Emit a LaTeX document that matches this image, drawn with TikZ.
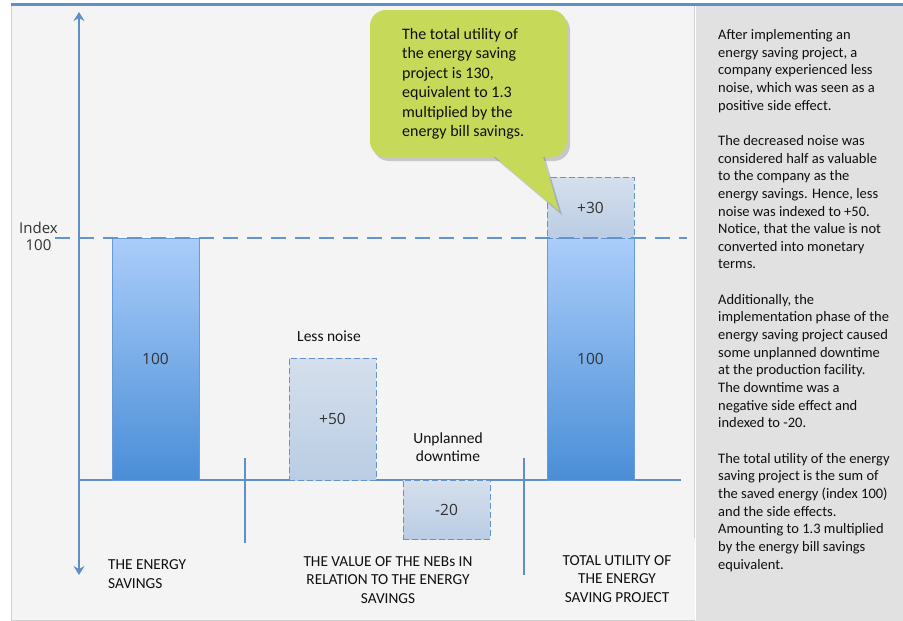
\documentclass[tikz,border=0pt]{standalone}
\usepackage{fontspec}
\setmainfont{Carlito}
\newfontfamily\numfont{Open Sans}
\usetikzlibrary{arrows.meta}

\definecolor{axisblue}{RGB}{95,143,201}
\definecolor{dashblue}{RGB}{100,148,205}
\definecolor{barline}{RGB}{104,154,214}
\definecolor{bartop}{RGB}{170,205,250}
\definecolor{barbot}{RGB}{74,142,215}
\definecolor{nebtop}{RGB}{213,223,236}
\definecolor{nebbot}{RGB}{186,205,228}
\definecolor{panelbg}{RGB}{244,244,244}
\definecolor{panelrule}{RGB}{208,208,208}
\definecolor{sidebg}{RGB}{225,225,225}
\definecolor{callgreen}{RGB}{198,217,89}
\definecolor{numgray}{RGB}{50,50,50}
\definecolor{inktext}{RGB}{15,15,15}

\begin{document}
\begin{tikzpicture}[x=1pt,y=-1pt,
  axis/.style={draw=axisblue, line width=2pt},
  enbar/.style={draw=barline, line width=0.8pt, top color=bartop, bottom color=barbot,
    minimum width=87pt, inner sep=0pt, outer sep=0pt, text=numgray,
    font=\numfont\fontsize{15.5}{18}\selectfont},
  nebbox/.style={draw=dashblue, line width=1pt, dash pattern=on 6pt off 3pt,
    top color=nebtop, bottom color=nebbot,
    minimum width=87pt, inner sep=0pt, outer sep=0pt, text=numgray,
    font=\numfont\fontsize{15.5}{18}\selectfont},
  lbl/.style={inner sep=0pt, align=center, text=inktext, font=\fontsize{15.5}{18}\selectfont},
  capt/.style={inner sep=0pt, text=inktext, font=\fontsize{15.3}{18.5}\selectfont},
  sepline/.style={draw=axisblue, line width=1.6pt},
  indexline/.style={draw=dashblue, line width=2.6pt, dash pattern=on 15pt off 9pt}
]
\useasboundingbox (0,0) rectangle (903,621);
\fill[white] (0,0) rectangle (903,621);

% panels
\fill[panelbg] (11,5) rectangle (695,620);
\draw[panelrule, line width=0.8pt] (11,620) -- (11,5);
\draw[panelrule, line width=0.8pt] (11,620) -- (695,620);
\fill[sidebg] (696,6) rectangle (903,621);
\draw[panelrule, line width=0.8pt] (694,5) -- (694,538);
\draw[axisblue, line width=2.5pt] (11,4.5) -- (903,4.5);

% axes
\coordinate (ytop) at (79,12);
\coordinate (ybot) at (79,575);
\coordinate (x0) at (79,480);
\coordinate (x1) at (681,480);
\draw[axis, {Stealth[length=9pt,width=11pt,inset=3pt]}-{Stealth[length=9pt,width=11pt,inset=3pt]}] (ybot) -- (ytop);
\draw[axis] (x0) -- (x1);

% group separators
\coordinate (s1a) at (245,458);
\coordinate (s1b) at (245,543);
\coordinate (s2a) at (524,458);
\coordinate (s2b) at (524,575);
\draw[sepline] (s1a) -- (s1b);
\draw[sepline] (s2a) -- (s2b);

% bars
\node[enbar, minimum height=242pt, anchor=south west] (esave) at (112,480) {100};
\node[enbar, minimum height=242pt, anchor=south west] (tbar) at (547,480) {100};
\node[nebbox, minimum height=61pt, anchor=south west] (plus30) at (547,238) {+30};
\node[nebbox, minimum height=122pt, anchor=south west] (noise) at (289,480) {+50};
\node[nebbox, minimum height=59pt, anchor=north west] (down) at (403,480) {-20};

% index line
\coordinate (d0) at (55,238);
\coordinate (d1) at (687,238);
\draw[indexline] (d0) -- (d1);
% (multi-line nodes: the base anchor sits on the last line)
\node[inner sep=0pt, align=center, text=numgray, font=\numfont\fontsize{15}{17.5}\selectfont, anchor=base] (idx) at (38.5,250.5) {Index\\100};

% chart labels
\node[lbl, anchor=base] (lnoise) at (329,341) {Less noise};
\node[lbl, anchor=base] (ldown) at (448,461) {Unplanned\\downtime};

% captions
\node[capt, align=left, anchor=base west] (c1) at (108,588) {THE ENERGY\\SAVINGS};
\node[capt, align=center, anchor=base] (c2) at (388,603) {THE VALUE OF THE NEBs IN\\RELATION TO THE ENERGY\\SAVINGS};
\node[capt, align=center, anchor=base] (c3) at (617,602) {TOTAL UTILITY OF\\THE ENERGY\\SAVING PROJECT};

% speech bubble
\begin{scope}[shift={(3,4)}]
  \fill[black, opacity=0.18, rounded corners=16pt] (370,10) rectangle (567,157);
  \fill[black, opacity=0.18] (487,150) -- (541,150) -- (559,211) -- cycle;
\end{scope}
\fill[callgreen, rounded corners=16pt] (370,10) rectangle (567,157);
\fill[callgreen] (487,150) -- (541,150) -- (559,211) -- cycle;
\node[inner sep=0pt, align=left, anchor=base west, text=inktext, font=\fontsize{16}{19.4}\selectfont] (bubble) at (402,136.5)
  {The total utility of\\the energy saving\\project is 130,\\equivalent to 1.3\\multiplied by the\\energy bill savings.};

% side notes
\node[inner sep=0pt, align=left, anchor=base west, text=inktext, font=\fontsize{14.5}{17.65}\selectfont] (side) at (718,569)
  {After implementing an\\energy saving project, a\\company experienced less\\noise, which was seen as a\\positive side effect.\\[17.65pt]
   The decreased noise was\\considered half as valuable\\to the company as the\\energy savings. Hence, less\\noise was indexed to +50.\\Notice, that the value is not\\converted into monetary\\terms.\\[17.65pt]
   Additionally, the\\implementation phase of the\\energy saving project caused\\some unplanned downtime\\at the production facility.\\The downtime was a\\negative side effect and\\indexed to -20.\\[17.65pt]
   The total utility of the energy\\saving project is the sum of\\the saved energy (index 100)\\and the side effects.\\Amounting to 1.3 multiplied\\by the energy bill savings\\equivalent.};
\end{tikzpicture}
\end{document}
